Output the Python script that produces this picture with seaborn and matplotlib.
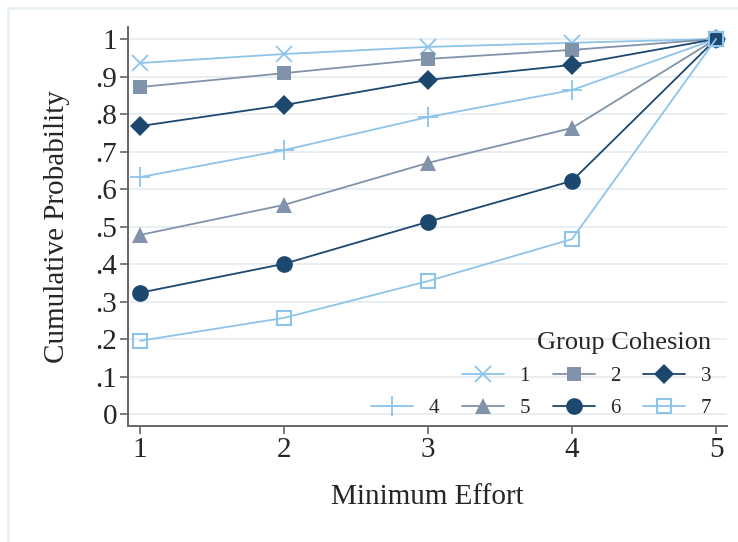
import numpy as np
import pandas as pd
import matplotlib
matplotlib.use("Agg")
import matplotlib.pyplot as plt
from matplotlib.lines import Line2D
from matplotlib.patches import Rectangle
import seaborn as sns

# data
effort = [1, 2, 3, 4, 5]
cohesion = ["1", "2", "3", "4", "5", "6", "7"]
prob_1 = [0.936, 0.960, 0.979, 0.990, 1.0]
prob_2 = [0.872, 0.909, 0.947, 0.971, 1.0]
prob_3 = [0.768, 0.824, 0.891, 0.931, 1.0]
prob_4 = [0.632, 0.704, 0.792, 0.864, 1.0]
prob_5 = [0.478, 0.558, 0.670, 0.763, 1.0]
prob_6 = [0.324, 0.401, 0.513, 0.622, 1.0]
prob_7 = [0.196, 0.257, 0.355, 0.467, 1.0]
y_ticks = [0, 0.1, 0.2, 0.3, 0.4, 0.5, 0.6, 0.7, 0.8, 0.9, 1.0]
y_tick_labels = ["0", ".1", ".2", ".3", ".4", ".5", ".6", ".7", ".8", ".9", "1"]

light = "#8ec4ea"
slate = "#8093aa"
navy = "#1c4870"

styles = {
    "1": dict(color=light, marker="x", ms=11, mew=1.3, mfc=light),
    "2": dict(color=slate, marker="s", ms=10, mew=0, mfc=slate),
    "3": dict(color=navy, marker="D", ms=10, mew=0, mfc=navy),
    "4": dict(color=light, marker="+", ms=15, mew=1.3, mfc=light),
    "5": dict(color=slate, marker="^", ms=11, mew=0, mfc=slate),
    "6": dict(color=navy, marker="o", ms=12, mew=0, mfc=navy),
    "7": dict(color=light, marker="s", ms=10, mew=1.5, mfc="none"),
}

series = [prob_1, prob_2, prob_3, prob_4, prob_5, prob_6, prob_7]
df = pd.DataFrame({
    "Minimum Effort": np.tile(effort, len(cohesion)),
    "prob": np.concatenate(series),
    "cohesion": np.repeat(cohesion, len(effort)),
})

sns.set_style("white")
plt.rcParams["font.family"] = ["Liberation Serif", "DejaVu Serif"]

fig = plt.figure(figsize=(7.38, 5.42), dpi=100)
ax = fig.add_axes([128 / 738, 1 - 426 / 542, (727 - 128) / 738, (426 - 27) / 542])

# faint outer frame like the Stata graph region
fig.patches.append(Rectangle((8 / 738, -0.1), 1.2, 1 - 8 / 542 + 0.1, transform=fig.transFigure,
                             fill=False, ec="#e9f1f1", lw=2))

for c in cohesion:
    st = styles[c]
    sub = df[df["cohesion"] == c]
    sns.lineplot(data=sub, x="Minimum Effort", y="prob", ax=ax, color=st["color"], lw=1.3,
                 marker=st["marker"], markersize=st["ms"], markeredgewidth=st["mew"],
                 markerfacecolor=st["mfc"], markeredgecolor=st["color"], label=c, zorder=3)

ax.set_xlim(0.917, 5.076)
ax.set_ylim(-0.031, 1.032)
ax.set_xticks(effort)
ax.set_xticklabels([str(e) for e in effort])
ax.set_yticks(y_ticks)
ax.set_yticklabels(y_tick_labels)
ax.yaxis.grid(True, color="#e8eef2", lw=1.4)
ax.set_axisbelow(True)
for s in ["top", "right"]:
    ax.spines[s].set_visible(False)
for s in ["left", "bottom"]:
    ax.spines[s].set_color("#666666")
    ax.spines[s].set_linewidth(1.4)
ax.tick_params(axis="both", direction="out", length=6, width=1.2, color="#666666",
               labelsize=21, pad=2, left=True, bottom=True)
ax.set_xlabel("Minimum Effort", fontsize=21, labelpad=15)
ax.set_ylabel("Cumulative Probability", fontsize=21, labelpad=18)

handles, labels = ax.get_legend_handles_labels()
hmap = dict(zip(labels, handles))
blank = Line2D([], [], color="none")
order = [(blank, ""), (hmap["4"], "4"), (hmap["1"], "1"), (hmap["5"], "5"),
         (hmap["2"], "2"), (hmap["6"], "6"), (hmap["3"], "3"), (hmap["7"], "7")]
leg = ax.legend([h for h, _ in order], [l for _, l in order], ncol=4, loc="lower right",
                bbox_to_anchor=(1.005, -0.027), frameon=False, fontsize=15,
                title="Group Cohesion", title_fontsize=19, alignment="right",
                handlelength=2.0, handletextpad=0.75, columnspacing=1.1, labelspacing=0.6)

fig.savefig("out.png", dpi=100)
